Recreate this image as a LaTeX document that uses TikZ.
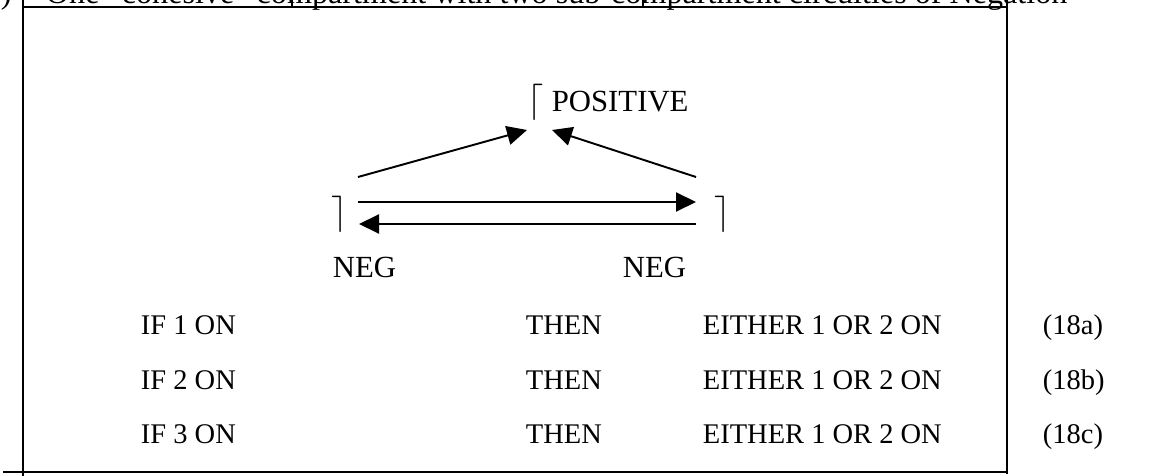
\documentclass[tikz,border=0pt]{standalone}
\usepackage{fontspec}
\setmainfont{Liberation Serif}
\usetikzlibrary{arrows.meta}

\begin{document}
\begin{tikzpicture}[x=0.02cm,y=-0.02cm,line width=1.1pt,
    every node/.style={inner sep=0pt,font=\fontsize{17.5}{21}\selectfont},
    rowtext/.style={anchor=base west,font=\fontsize{16.2}{20}\selectfont},
    brk/.style={font=\fontsize{21}{21}\selectfont},
    arr/.style={-{Triangle[length=0.4cm,width=0.38cm]}}]
\useasboundingbox (0,0) rectangle (1172,476);
% caption line, cut by the top edge
\begin{scope}
\clip (0,0) rectangle (1172,476);
\node[anchor=base west,font=\fontsize{18.3}{22}\selectfont] (num) at (0,4) {)};
\node[anchor=base west,font=\fontsize{18.3}{22}\selectfont] (cap) at (45,4) {One ``cohesive'' compartment with two sub-compartment circuities of Negation};
\end{scope}
% frame
\draw (23,0) -- (23,476) ;
\draw (1007,0) -- (1007,474) ;
\draw (23,7) -- (1007,7) ;
\draw (3,472) -- (1007,472) ;
\foreach \x in {292,643}
    \draw (\x,0) -- (\x,7);
% circuit
\node[anchor=base west] (pos) at (527,112) {{\fontsize{21}{21}\selectfont$\lceil$} POSITIVE};
\node[brk] (negL) at (340,214) {$\rceil$};
\node[brk] (negR) at (723,214) {$\rceil$};
\node[anchor=base west] (labL) at (332,277) {NEG};
\node[anchor=base west] (labR) at (622,277) {NEG};
\coordinate (posL) at (527,130);
\coordinate (posR) at (552,130);
\coordinate (upL) at (358,177);
\coordinate (upR) at (696,177);
\coordinate (hiL) at (358,202);
\coordinate (hiR) at (696,202);
\coordinate (loL) at (359,224);
\coordinate (loR) at (696,224);
\draw[arr] (upL) -- (posL);
\draw[arr] (upR) -- (posR);
\draw[arr] (hiL) -- (hiR);
\draw[arr] (loR) -- (loL);
% rules
\foreach \n/\r/\y in {1/a/334,2/b/389,3/c/443}
    {\node[rowtext] (if\r) at (140,\y) {IF \n\ ON};
    \node[rowtext] (then\r) at (525,\y) {THEN};
    \node[rowtext] (either\r) at (702,\y) {EITHER 1 OR 2 ON};
    \node[rowtext] (eq\r) at (1042,\y) {(18\r)};}
\end{tikzpicture}
\end{document}
